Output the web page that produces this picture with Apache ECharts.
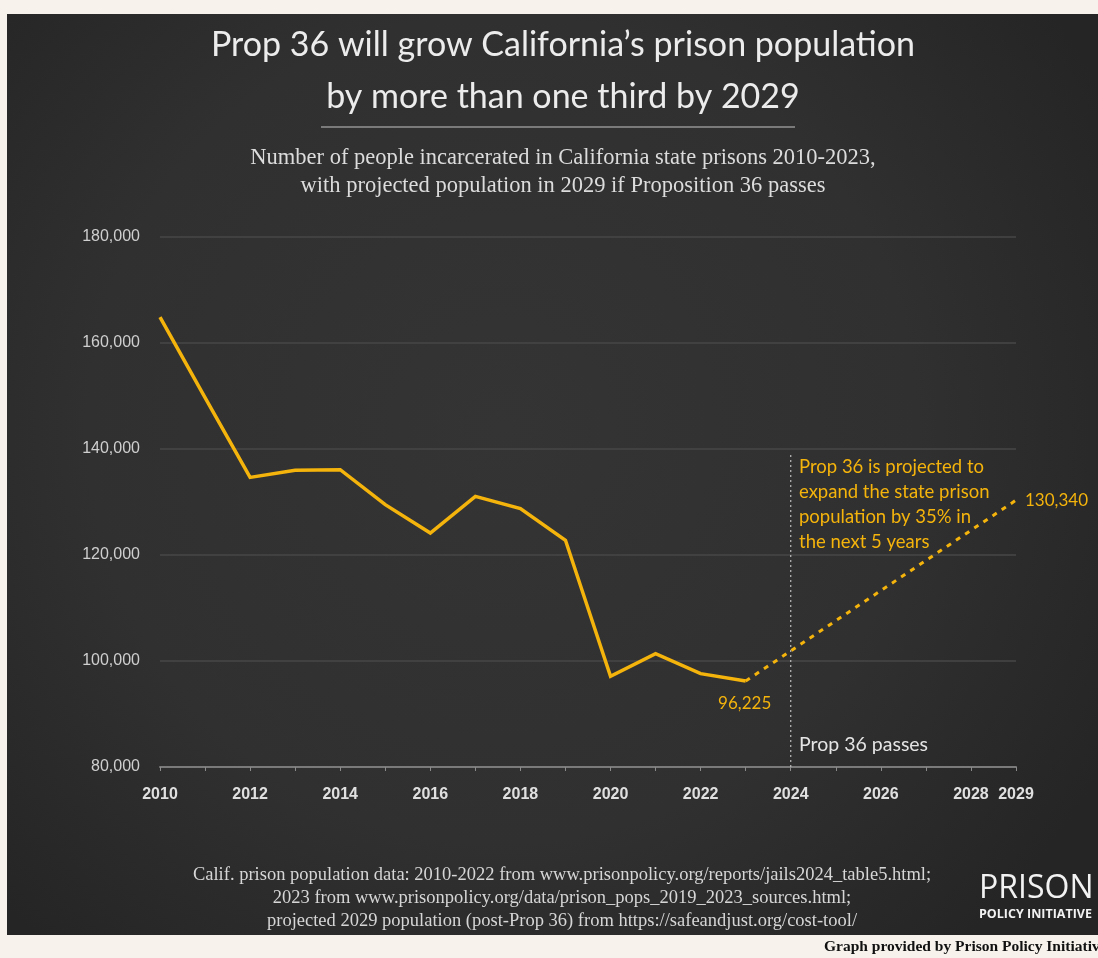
<!DOCTYPE html>
<html>
<head>
<meta charset="utf-8">
<script src="https://cdn.jsdelivr.net/npm/echarts@6/dist/echarts.min.js"></script>
<style>
html,body{margin:0;padding:0;background:#f7f3ec;}
#chart{width:1098px;height:958px;}
</style>
</head>
<body>
<div id="chart"></div>
<script>
// ---- data ----
var years = [2010, 2011, 2012, 2013, 2014, 2015, 2016, 2017, 2018, 2019, 2020, 2021, 2022, 2023];
var population = [164900, 149700, 134650, 136000, 136100, 129500, 124150, 131070, 128740, 122770, 97100, 101380, 97610, 96225];
var projYears = [2023, 2029];
var projValues = [96225, 130340];
var passYear = 2024;
var passLineRange = [80000, 139000];
var xTickLabels = [2010, 2012, 2014, 2016, 2018, 2020, 2022, 2024, 2026, 2028, 2029];
var titleText = 'Prop 36 will grow California\u2019s prison population\nby more than one third by 2029';
var subtitleText = 'Number of people incarcerated in California state prisons 2010-2023,\nwith projected population in 2029 if Proposition 36 passes';
var sourceText = 'Calif. prison population data: 2010-2022 from www.prisonpolicy.org/reports/jails2024_table5.html;\n2023 from www.prisonpolicy.org/data/prison_pops_2019_2023_sources.html;\nprojected 2029 population (post-Prop 36) from https://safeandjust.org/cost-tool/';
var noteText = 'Prop 36 is projected to\nexpand the state prison\npopulation by 35% in\nthe next 5 years';
var passText = 'Prop 36 passes';

var YELLOW = '#f5b40c';
function fmt(v){ return v.toString().replace(/\B(?=(\d{3})+(?!\d))/g, ','); }

var solidData = years.map(function(y, i){ return [y, population[i]]; });
var projData = projYears.map(function(y, i){ return [y, projValues[i]]; });
var passData = passLineRange.map(function(v){ return [passYear, v]; });

var chart = echarts.init(document.getElementById('chart'), null, {renderer: 'canvas'});
var option = {
  backgroundColor: '#f7f3ec',
  animation: false,
  title: [
    {
      text: titleText, left: 558, top: 14, textAlign: 'center',
      textStyle: {fontFamily: 'Lato', fontWeight: 'normal', fontSize: 34, lineHeight: 52, color: '#ececec'}
    },
    {
      text: subtitleText, left: 558, top: 139, textAlign: 'center',
      textStyle: {fontFamily: 'Liberation Serif', fontWeight: 'normal', fontSize: 22.5, lineHeight: 28, color: '#dcdcdc'}
    },
    {
      text: sourceText, left: 557, top: 859, textAlign: 'center',
      textStyle: {fontFamily: 'Liberation Serif', fontWeight: 'normal', fontSize: 18.5, lineHeight: 23, color: '#d6d6d6'}
    }
  ],
  graphic: [
    {
      type: 'rect', z: -10, silent: true,
      shape: {x: 7, y: 14, width: 1100, height: 921},
      style: {
        fill: {
          type: 'radial', x: 0.45, y: 0.45, r: 0.75,
          colorStops: [{offset: 0, color: '#343434'}, {offset: 0.6, color: '#303030'}, {offset: 1, color: '#252525'}]
        }
      }
    },
    {
      type: 'line', silent: true,
      shape: {x1: 321, y1: 127, x2: 795, y2: 127},
      style: {stroke: '#7a7a7a', lineWidth: 2}
    },
    {
      type: 'text', silent: true, left: 799, top: 455,
      style: {text: noteText, fill: YELLOW, font: '18.5px Lato', lineHeight: 25}
    },
    {
      type: 'text', silent: true, left: 799, top: 735,
      style: {text: passText, fill: '#e4e4e4', font: '19.5px Lato'}
    },
    {
      type: 'text', silent: true, left: 979, top: 873,
      style: {text: 'PRISON', fill: '#f2f2f2', font: '500 32px "Open Sans"'}
    },
    {
      type: 'text', silent: true, left: 979, top: 908,
      style: {text: 'POLICY INITIATIVE', fill: '#f2f2f2', font: 'bold 12.5px "Open Sans"'}
    },
    {
      type: 'text', silent: true, left: 824, top: 939,
      style: {text: 'Graph provided by Prison Policy Initiative', fill: '#111', font: 'bold 15.5px "Liberation Serif"'}
    }
  ],
  grid: {left: 160, right: 82, top: 237, bottom: 191, containLabel: false},
  xAxis: {
    type: 'value', min: 2010, max: 2029, interval: 1,
    axisLine: {show: true, lineStyle: {color: '#7a7a7a', width: 2}},
    axisTick: {show: true, length: 4, lineStyle: {color: '#8a8a8a'}},
    splitLine: {show: false},
    axisLabel: {
      color: '#e0e0e0', fontFamily: 'Liberation Sans', fontWeight: 'bold', fontSize: 16, margin: 20,
      showMinLabel: true, showMaxLabel: true,
      formatter: function(v){ return xTickLabels.indexOf(v) >= 0 ? String(v) : ''; }
    }
  },
  yAxis: {
    type: 'value', min: 80000, max: 180000, interval: 20000,
    axisLine: {show: false}, axisTick: {show: false},
    splitLine: {lineStyle: {color: '#474747', width: 1.5}},
    axisLabel: {color: '#cfcfcf', fontFamily: 'Liberation Sans', fontSize: 16, margin: 20, formatter: fmt}
  },
  series: [
    {
      type: 'line', data: passData, symbol: 'none', silent: true,
      lineStyle: {color: '#bdbdbd', width: 1.2, type: [2, 3]}
    },
    {
      type: 'line', data: projData, symbol: 'none', silent: true,
      lineStyle: {color: YELLOW, width: 3, type: [5, 6]},
      label: {show: false},
      endLabel: {
        show: true, formatter: function(p){ return fmt(p.value[1]); },
        color: YELLOW, fontFamily: 'Lato', fontSize: 17, distance: 9
      }
    },
    {
      type: 'line', data: solidData, symbol: 'none', silent: true,
      lineStyle: {color: YELLOW, width: 3.5, join: 'miter'},
      markPoint: {
        symbol: 'circle', symbolSize: 0,
        data: [{coord: solidData[solidData.length - 1], value: population[population.length - 1]}],
        label: {
          show: true, position: 'bottom', distance: 14, offset: [-1, 0],
          formatter: function(p){ return fmt(p.value); },
          color: YELLOW, fontFamily: 'Lato', fontSize: 17
        }
      }
    }
  ]
};
chart.setOption(option);
</script>
</body>
</html>
